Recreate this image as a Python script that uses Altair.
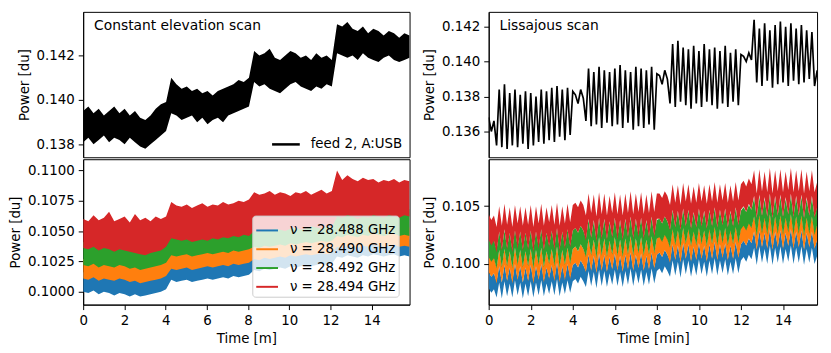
import altair as alt
import numpy as np
import pandas as pd

FONT = "DejaVu Sans"
FS = 13.5

# ---------------- labels / colours ----------------
FEED_LABEL = "feed 2, A:USB"
NU_LABELS = ["ν = 28.488 GHz", "ν = 28.490 GHz", "ν = 28.492 GHz", "ν = 28.494 GHz"]
NU_COLORS = ["#1f77b4", "#ff7f0e", "#2ca02c", "#d62728"]

# ---------------- sample times [min] ----------------
ce_time = np.linspace(0.0, 15.83, 64)      # constant elevation scan
li_time = np.arange(126) * 0.125           # lissajous scan

# ---------------- constant elevation scan (units 1e-4 du) ----------------
ce_feed_hi = ([1395, 1397, 1394, 1396, 1393, 1395, 1397, 1394, 1396, 1393, 1395, 1392, 1391, 1393, 1396, 1398, 1399]
              + [1410, 1407, 1405, 1406, 1404, 1405, 1403, 1404, 1402, 1404, 1405, 1406, 1407, 1409, 1408, 1410]
              + [1422, 1420, 1421, 1423, 1419, 1418, 1420, 1422, 1421, 1419, 1420, 1418, 1421, 1419, 1420, 1418]
              + [1434, 1433, 1435, 1432, 1431, 1433, 1430, 1432, 1431, 1429, 1431, 1430, 1428, 1430, 1429])
ce_feed_lo = ([1381, 1383, 1380, 1382, 1384, 1381, 1383, 1382, 1380, 1383, 1381, 1379, 1378, 1380, 1382, 1384, 1386]
              + [1394, 1393, 1391, 1392, 1393, 1390, 1392, 1389, 1391, 1392, 1390, 1393, 1394, 1395, 1396, 1397]
              + [1408, 1406, 1407, 1405, 1404, 1403, 1405, 1407, 1408, 1406, 1405, 1404, 1406, 1405, 1407, 1406]
              + [1421, 1420, 1419, 1420, 1418, 1421, 1419, 1418, 1417, 1419, 1420, 1418, 1417, 1418, 1419])

ce_red_hi = ([1060, 1058, 1063, 1059, 1061, 1066, 1058, 1060, 1062, 1057, 1064, 1059, 1061, 1058, 1062, 1060, 1062]
             + [1074, 1071, 1070, 1072, 1069, 1071, 1073, 1070, 1072, 1071, 1074, 1072, 1073, 1075, 1074, 1076]
             + [1082, 1080, 1081, 1083, 1080, 1082, 1081, 1079, 1082, 1081, 1083, 1080, 1082, 1084, 1081, 1083]
             + [1100, 1092, 1096, 1093, 1091, 1094, 1092, 1093, 1090, 1092, 1091, 1093, 1090, 1092, 1091])
ce_red_lo = ([1036, 1035, 1037, 1034, 1036, 1035, 1033, 1035, 1034, 1033, 1032, 1031, 1030, 1032, 1033, 1034, 1037]
             + [1044, 1043, 1042, 1043, 1041, 1042, 1043, 1042, 1044, 1043, 1045, 1044, 1046, 1045, 1047, 1046]
             + [1050, 1049, 1051, 1050, 1052, 1051, 1050, 1052, 1053, 1051, 1052, 1054, 1053, 1052, 1054, 1053]
             + [1062, 1061, 1063, 1062, 1060, 1062, 1061, 1063, 1062, 1061, 1063, 1062, 1061, 1063, 1062])
ce_green_hi = ([1041, 1040, 1042, 1039, 1041, 1040, 1038, 1040, 1039, 1038, 1037, 1036, 1035, 1037, 1038, 1039, 1043]
               + [1049, 1047, 1046, 1047, 1045, 1046, 1047, 1046, 1048, 1047, 1049, 1048, 1050, 1049, 1051, 1050]
               + [1057, 1056, 1058, 1057, 1059, 1058, 1057, 1059, 1060, 1058, 1059, 1061, 1060, 1059, 1061, 1060]
               + [1068, 1067, 1069, 1068, 1066, 1068, 1067, 1069, 1068, 1067, 1069, 1068, 1067, 1069, 1068])
ce_green_lo = ([1022, 1021, 1023, 1020, 1022, 1021, 1020, 1022, 1021, 1019, 1020, 1018, 1019, 1020, 1021, 1022, 1024]
               + [1030, 1029, 1030, 1031, 1029, 1030, 1031, 1032, 1031, 1032, 1033, 1032, 1034, 1033, 1034, 1035]
               + [1037, 1036, 1038, 1037, 1038, 1039, 1038, 1040, 1039, 1040, 1041, 1040, 1041, 1042, 1041, 1042]
               + [1046, 1045, 1047, 1046, 1045, 1047, 1046, 1048, 1047, 1046, 1047, 1048, 1046, 1047, 1046])
ce_orange_hi = ([1027, 1026, 1028, 1025, 1027, 1026, 1025, 1027, 1026, 1024, 1025, 1023, 1024, 1025, 1026, 1027, 1030]
                + [1036, 1035, 1036, 1037, 1035, 1036, 1037, 1038, 1037, 1038, 1039, 1038, 1040, 1039, 1040, 1041]
                + [1044, 1043, 1045, 1044, 1045, 1046, 1045, 1047, 1046, 1047, 1048, 1047, 1048, 1049, 1048, 1049]
                + [1053, 1052, 1054, 1053, 1052, 1054, 1053, 1055, 1054, 1053, 1054, 1055, 1053, 1054, 1053])
ce_orange_lo = ([1011, 1010, 1012, 1009, 1011, 1010, 1009, 1011, 1010, 1008, 1009, 1007, 1008, 1009, 1010, 1011, 1013]
                + [1019, 1018, 1019, 1020, 1018, 1019, 1020, 1021, 1020, 1021, 1022, 1021, 1023, 1022, 1023, 1024]
                + [1027, 1026, 1028, 1027, 1028, 1029, 1028, 1030, 1029, 1030, 1031, 1030, 1031, 1032, 1031, 1032]
                + [1037, 1036, 1038, 1037, 1036, 1038, 1037, 1039, 1038, 1037, 1038, 1039, 1037, 1038, 1037])
ce_blue_hi = ([1016, 1015, 1017, 1014, 1016, 1015, 1014, 1016, 1015, 1013, 1014, 1012, 1013, 1014, 1015, 1016, 1019]
              + [1025, 1024, 1025, 1026, 1024, 1025, 1026, 1027, 1026, 1027, 1028, 1027, 1029, 1028, 1029, 1030]
              + [1033, 1032, 1034, 1033, 1034, 1035, 1034, 1036, 1035, 1036, 1037, 1036, 1037, 1038, 1037, 1038]
              + [1043, 1042, 1044, 1043, 1042, 1044, 1043, 1045, 1044, 1043, 1044, 1045, 1043, 1044, 1043])
ce_blue_lo = ([1000, 999, 1001, 998, 1000, 999, 997, 999, 998, 996, 998, 996, 997, 998, 999, 1000, 1002]
              + [1010, 1008, 1009, 1010, 1008, 1009, 1010, 1011, 1010, 1011, 1012, 1011, 1013, 1012, 1013, 1014]
              + [1018, 1017, 1019, 1018, 1019, 1020, 1019, 1021, 1020, 1021, 1022, 1021, 1022, 1023, 1022, 1023]
              + [1029, 1028, 1030, 1029, 1028, 1030, 1029, 1031, 1030, 1029, 1030, 1031, 1029, 1030, 1029])

# ---------------- lissajous scan (units 1e-4 du) ----------------
li_feed = ([1368, 1360, 1366, 1352, 1384, 1351, 1387, 1350, 1382, 1352, 1384, 1351, 1381, 1353, 1383, 1350, 1382,
            1352, 1380, 1354, 1384, 1353, 1383, 1355, 1385, 1354, 1386, 1357, 1384, 1355, 1385, 1358, 1383]
           + [1381, 1376, 1384, 1379, 1366, 1396, 1363, 1394, 1364, 1397, 1362, 1395, 1365, 1394, 1363, 1396,
              1364, 1398, 1362, 1395, 1365, 1394, 1361, 1397, 1363, 1396, 1362, 1395, 1364, 1397, 1361, 1393]
           + [1392, 1387, 1395, 1390, 1376, 1410, 1374, 1412, 1377, 1408, 1375, 1407, 1373, 1409, 1376, 1406,
              1374, 1410, 1377, 1407, 1375, 1408, 1373, 1406, 1376, 1409, 1374, 1405, 1377, 1407, 1375, 1404]
           + [1403, 1400, 1405, 1401, 1424, 1388, 1419, 1386, 1422, 1389, 1418, 1385, 1421, 1387, 1423, 1388,
              1420, 1386, 1422, 1389, 1419, 1387, 1421, 1388, 1418, 1390, 1417, 1386, 1395])

li_blue = ([986, 982, 985, 978, 991, 977, 992, 979, 990, 978, 993, 980, 991, 977, 990, 979, 992, 978, 991, 980,
            993, 979, 990, 981, 992, 980, 994, 979, 991, 981, 993, 982, 992]
           + [994, 990, 996, 992, 987, 1001, 988, 1000, 986, 1002, 988, 1001, 987, 999, 989, 1002, 988, 1000, 987,
              1001, 989, 1003, 988, 1001, 990, 1002, 988, 1000, 989, 1003, 990, 1001]
           + [1003, 999, 1005, 1001, 996, 1010, 997, 1009, 995, 1011, 998, 1010, 996, 1008, 997, 1011, 998, 1009,
              996, 1010, 998, 1012, 997, 1010, 999, 1011, 997, 1009, 998, 1012, 999, 1010]
           + [1013, 1009, 1015, 1011, 1021, 1006, 1022, 1008, 1020, 1007, 1023, 1006, 1021, 1008, 1022, 1007, 1020,
              1009, 1023, 1007, 1021, 1008, 1022, 1006, 1020, 1008, 1021, 1007, 1014])
li_orange = ([1000, 996, 999, 990, 1005, 991, 1006, 992, 1004, 990, 1007, 993, 1005, 991, 1004, 992, 1006, 990, 1005,
              993, 1007, 991, 1004, 994, 1006, 992, 1008, 991, 1005, 993, 1007, 994, 1006]
             + [1008, 1004, 1010, 1006, 1000, 1015, 1001, 1014, 999, 1016, 1001, 1015, 1000, 1013, 1002, 1016, 1001,
                1014, 1000, 1015, 1002, 1017, 1001, 1015, 1003, 1016, 1001, 1014, 1002, 1017, 1003, 1015]
             + [1017, 1013, 1019, 1015, 1008, 1024, 1010, 1023, 1008, 1025, 1011, 1024, 1009, 1022, 1010, 1025, 1011,
                1023, 1009, 1024, 1011, 1026, 1010, 1024, 1012, 1025, 1010, 1023, 1011, 1026, 1012, 1024]
             + [1027, 1023, 1029, 1025, 1035, 1019, 1036, 1021, 1034, 1020, 1037, 1019, 1035, 1021, 1036, 1020, 1034,
                1022, 1037, 1020, 1035, 1021, 1036, 1019, 1034, 1021, 1035, 1020, 1028])
li_green = ([1014, 1010, 1013, 1004, 1020, 1005, 1021, 1006, 1019, 1004, 1022, 1007, 1020, 1005, 1019, 1006, 1021,
             1004, 1020, 1007, 1022, 1005, 1019, 1008, 1021, 1006, 1023, 1005, 1020, 1007, 1022, 1008, 1021]
            + [1023, 1019, 1025, 1021, 1014, 1030, 1015, 1029, 1013, 1031, 1015, 1030, 1014, 1028, 1016, 1031, 1015,
               1029, 1014, 1030, 1016, 1032, 1015, 1030, 1017, 1031, 1015, 1029, 1016, 1032, 1017, 1030]
            + [1031, 1027, 1033, 1029, 1022, 1038, 1024, 1037, 1022, 1039, 1025, 1038, 1023, 1036, 1024, 1039, 1025,
               1037, 1023, 1038, 1025, 1040, 1024, 1038, 1026, 1039, 1024, 1037, 1025, 1040, 1026, 1038]
            + [1041, 1037, 1043, 1039, 1049, 1032, 1050, 1034, 1048, 1033, 1051, 1032, 1049, 1034, 1050, 1033, 1048,
               1035, 1051, 1033, 1049, 1034, 1050, 1032, 1048, 1034, 1049, 1033, 1042])
li_red = ([1032, 1027, 1031, 1021, 1039, 1022, 1041, 1023, 1038, 1021, 1040, 1024, 1039, 1022, 1038, 1023, 1040,
           1021, 1039, 1024, 1041, 1022, 1038, 1025, 1040, 1023, 1042, 1022, 1039, 1024, 1041, 1025, 1040]
          + [1042, 1038, 1044, 1040, 1031, 1050, 1033, 1049, 1030, 1051, 1032, 1050, 1031, 1048, 1033, 1051, 1032,
             1049, 1031, 1050, 1033, 1052, 1032, 1050, 1034, 1051, 1032, 1049, 1033, 1052, 1034, 1050]
          + [1050, 1046, 1052, 1048, 1040, 1058, 1042, 1057, 1040, 1059, 1043, 1058, 1041, 1056, 1042, 1059, 1043,
             1057, 1041, 1058, 1043, 1060, 1042, 1058, 1044, 1059, 1042, 1057, 1043, 1060, 1044, 1058]
          + [1061, 1056, 1063, 1058, 1070, 1050, 1071, 1052, 1069, 1051, 1072, 1050, 1070, 1052, 1071, 1051, 1069,
             1053, 1072, 1051, 1070, 1052, 1071, 1050, 1069, 1052, 1070, 1051, 1060])
li_spread = [7, 7, 8, 11]   # noise half-width of each channel (blue, orange, green, red)

# ---------------- data frames ----------------
S = 1e-4
df_tl = pd.DataFrame({"t": ce_time, "lo": np.array(ce_feed_lo) * S, "hi": np.array(ce_feed_hi) * S,
                      "series": FEED_LABEL})
ce_bands = [(ce_blue_lo, ce_blue_hi), (ce_orange_lo, ce_orange_hi), (ce_green_lo, ce_green_hi),
            (ce_red_lo, ce_red_hi)]
df_bl = [pd.DataFrame({"t": ce_time, "lo": np.array(lo) * S, "hi": np.array(hi) * S, "series": lab})
         for (lo, hi), lab in zip(ce_bands, NU_LABELS)]
df_tr = pd.DataFrame({"t": li_time, "p": np.array(li_feed) * S})
li_centres = [li_blue, li_orange, li_green, li_red]
df_br = [pd.DataFrame({"t": li_time, "lo": (np.array(c) - w) * S, "hi": (np.array(c) + w) * S, "series": lab})
         for c, w, lab in zip(li_centres, li_spread, NU_LABELS)]

# ---------------- helpers ----------------
LEFT_W, RIGHT_W, H = 330, 332, 147
LINE_SYMBOL = "M-1,-0.09L1,-0.09L1,0.09L-1,0.09Z"


def y_axis(vals, fmt):
    return alt.Axis(values=vals, format=fmt, title="Power [du]", grid=False, tickSize=5,
                    labelPadding=4, titlePadding=5, labelFlush=False)


def x_axis(title):
    return alt.Axis(values=list(range(0, 16, 2)), format="d", title=title, grid=False, tickSize=5,
                    labelPadding=4, titlePadding=5, labelFlush=False)


def annotation(label, dx):
    return alt.Chart(pd.DataFrame({"label": [label]})).mark_text(
        align="left", baseline="alphabetic", font=FONT, fontSize=14, color="black"
    ).encode(x=alt.value(dx), y=alt.value(18), text="label:N")


xs_left = alt.Scale(domain=[0, 15.83], nice=False, zero=False)
xs_right = alt.Scale(domain=[0, 15.62], nice=False, zero=False)

nu_scale = alt.Scale(domain=NU_LABELS, range=NU_COLORS)
nu_legend = alt.Legend(title=None, orient="none", legendX=171, legendY=57, symbolType=LINE_SYMBOL,
                       symbolSize=484, symbolOpacity=1, labelFont=FONT, labelFontSize=FS, labelColor="black",
                       labelOffset=11, rowPadding=0, padding=3, fillColor="rgba(255,255,255,0.8)",
                       strokeColor="#cccccc", cornerRadius=3)

# ---------------- panels ----------------
tl = alt.layer(
    alt.Chart(df_tl).mark_area(opacity=1, clip=True).encode(
        x=alt.X("t:Q", scale=xs_left, axis=None),
        y=alt.Y("lo:Q", scale=alt.Scale(domain=[0.13742, 0.14396], nice=False, zero=False),
                axis=y_axis([0.138, 0.140, 0.142], ".3f")),
        y2="hi:Q",
        color=alt.Color("series:N", scale=alt.Scale(domain=[FEED_LABEL], range=["black"]),
                        legend=alt.Legend(title=None, orient="none", legendX=190, legendY=119,
                                          symbolType=LINE_SYMBOL, symbolSize=784, symbolOpacity=1,
                                          labelFont=FONT, labelFontSize=FS, labelColor="black",
                                          labelOffset=10, padding=0)),
    ),
    annotation("Constant elevation scan", 11),
).properties(width=LEFT_W, height=H)

bl = alt.layer(*[
    alt.Chart(d).mark_area(opacity=1, clip=True).encode(
        x=alt.X("t:Q", scale=xs_left, axis=x_axis("Time [m]")),
        y=alt.Y("lo:Q", scale=alt.Scale(domain=[0.09894, 0.11092], nice=False, zero=False),
                axis=y_axis([0.1000, 0.1025, 0.1050, 0.1075, 0.1100], ".4f")),
        y2="hi:Q",
        color=alt.Color("series:N", scale=nu_scale, legend=nu_legend),
    ) for d in df_bl
]).properties(width=LEFT_W, height=H)

tr = alt.layer(
    alt.Chart(df_tr).mark_line(color="black", strokeWidth=1.7, clip=True).encode(
        x=alt.X("t:Q", scale=xs_right, axis=None),
        y=alt.Y("p:Q", scale=alt.Scale(domain=[0.13452, 0.14285], nice=False, zero=False),
                axis=y_axis([0.136, 0.138, 0.140, 0.142], ".3f")),
    ),
    annotation("Lissajous scan", 11),
).properties(width=RIGHT_W, height=H)

br = alt.layer(*[
    alt.Chart(d).mark_area(opacity=1, clip=True).encode(
        x=alt.X("t:Q", scale=xs_right, axis=x_axis("Time [min]")),
        y=alt.Y("lo:Q", scale=alt.Scale(domain=[0.09648, 0.10906], nice=False, zero=False),
                axis=y_axis([0.100, 0.105], ".3f")),
        y2="hi:Q",
        color=alt.Color("series:N", scale=nu_scale, legend=None),
    ) for d in df_br
]).properties(width=RIGHT_W, height=H)

left = alt.vconcat(tl, bl, spacing=0).resolve_scale(color="independent")
right = alt.vconcat(tr, br, spacing=0).resolve_scale(color="independent")

chart = alt.hconcat(left, right, spacing=11).resolve_scale(color="independent").properties(
    padding={"left": 0, "top": 1, "right": 5, "bottom": 5}
).configure(font=FONT).configure_view(
    stroke="black", strokeWidth=1
).configure_axis(
    domainColor="black", tickColor="black", labelColor="black", titleColor="black",
    labelFont=FONT, titleFont=FONT, labelFontSize=FS, titleFontSize=FS, titleFontWeight="normal",
    domainWidth=1, tickWidth=1
)

chart.save("out.html", embed_options={"renderer": "svg", "actions": False})
